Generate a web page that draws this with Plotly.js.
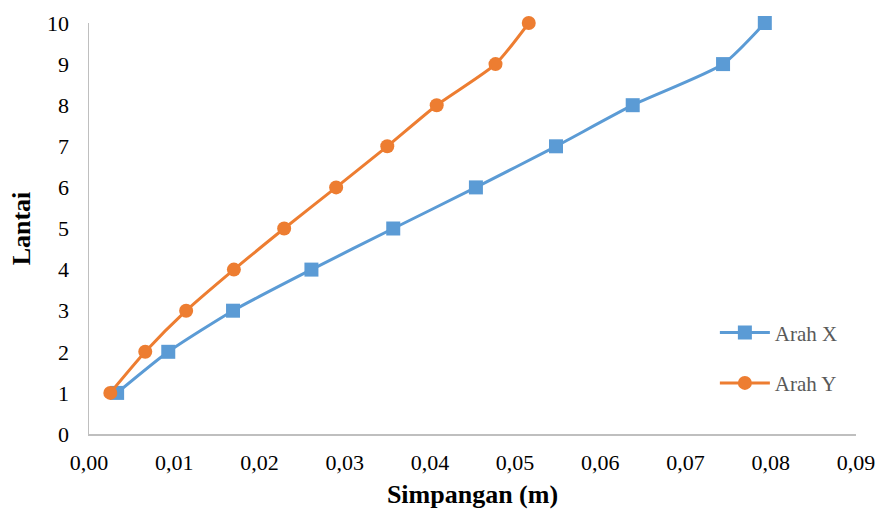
<!DOCTYPE html>
<html><head><meta charset="utf-8">
<script src="https://cdn.plot.ly/plotly-3.0.1.min.js"></script>
<style>html,body{margin:0;padding:0;background:#fff}#c{width:880px;height:513px}</style>
</head><body><div id="c"></div>
<script>
const lantai = [1,2,3,4,5,6,7,8,9,10];
const arahX = [0.0033,0.0093,0.0169,0.0261,0.0357,0.0454,0.0548,0.0638,0.0744,0.0793];
const arahY = [0.0025,0.0066,0.0114,0.0170,0.0229,0.0290,0.0350,0.0408,0.0477,0.0516];
const xTicks = [0,0.01,0.02,0.03,0.04,0.05,0.06,0.07,0.08,0.09];
const xTickText = ["0,00","0,01","0,02","0,03","0,04","0,05","0,06","0,07","0,08","0,09"];

const font = "Liberation Serif";
const traces = [
 {x: arahX, y: lantai, name: "Arah X", legendgroup: "a", mode: "lines+markers", type: "scatter",
  line: {color: "#5B9BD5", width: 3, shape: "spline", smoothing: 0.6},
  marker: {symbol: "square", size: 14, color: "#5B9BD5"}, cliponaxis: false},
 {x: arahY, y: lantai, name: "Arah Y", legendgroup: "b", mode: "lines+markers", type: "scatter",
  line: {color: "#ED7D31", width: 3, shape: "spline", smoothing: 0.6},
  marker: {symbol: "circle", size: 14, color: "#ED7D31"}, cliponaxis: false}
];
const layout = {
 width: 880, height: 513,
 margin: {l: 89, r: 24, t: 23, b: 79},
 paper_bgcolor: "#fff", plot_bgcolor: "#fff",
 font: {family: font, size: 22, color: "#000"},
 showlegend: true,
 legend: {x: 0.816, y: 0.185, xanchor: "left", yanchor: "middle", traceorder: "grouped",
   itemwidth: 50,
   font: {family: font, size: 21, color: "#595959"}, tracegroupgap: 20, bgcolor: "rgba(0,0,0,0)"},
 xaxis: {range: [0, 0.09], tickvals: xTicks, ticktext: xTickText, showgrid: false, zeroline: false,
   showline: true, linecolor: "#bfbfbf", linewidth: 1.5, ticks: "", ticklen: 0, ticklabelstandoff: 8,
   tickfont: {family: font, size: 22, color: "#000"},
   title: {text: "<b>Simpangan (m)</b>", font: {family: font, size: 26, color: "#000"}, standoff: 11}},
 yaxis: {range: [0, 10], dtick: 1, showgrid: false, zeroline: false,
   showline: true, linecolor: "#bfbfbf", linewidth: 1.5, ticks: "", ticklen: 0, ticklabelstandoff: 14,
   tickfont: {family: font, size: 22, color: "#000"},
   title: {text: "<b>Lantai</b>", font: {family: font, size: 26, color: "#000"}, standoff: 9}}
};
Plotly.newPlot("c", traces, layout, {displayModeBar: false, staticPlot: true});
</script></body></html>
